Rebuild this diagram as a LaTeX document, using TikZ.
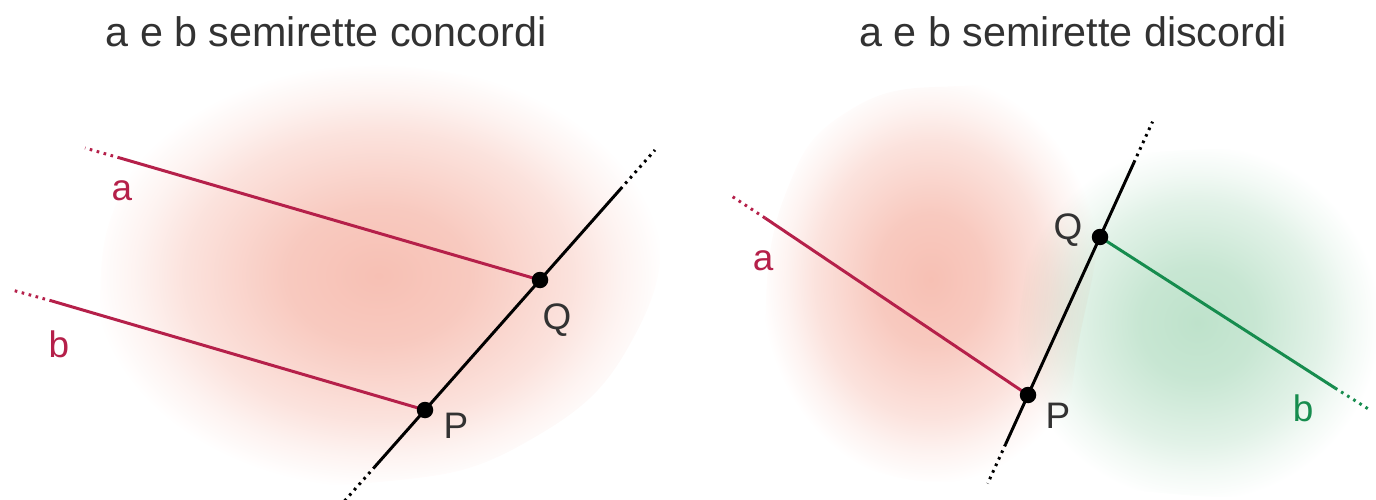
\documentclass[tikz,border=0pt]{standalone}
\usepackage{fontspec}
\setmainfont{Liberation Sans}
\usetikzlibrary{calc}

\definecolor{segred}{RGB}{181,32,74}
\definecolor{seggreen}{RGB}{22,140,78}
\definecolor{blobred}{RGB}{247,192,180}
\definecolor{blobgreen}{RGB}{190,226,203}
\definecolor{titlegray}{RGB}{50,50,50}

\pgfdeclareradialshading{redblob}{\pgfpoint{0bp}{0bp}}{color(0bp)=(blobred); color(8bp)=(blobred!85!white); color(17bp)=(blobred!45!white); color(21bp)=(blobred!20!white); color(25bp)=(white); color(50bp)=(white)}
\pgfdeclareradialshading{greenblob}{\pgfpoint{0bp}{0bp}}{color(0bp)=(blobgreen); color(8bp)=(blobgreen!85!white); color(17bp)=(blobgreen!45!white); color(21bp)=(blobgreen!20!white); color(25bp)=(white); color(50bp)=(white)}

\begin{document}
\begin{tikzpicture}[
  x=0.02cm, y=-0.02cm,
  seg/.style={line width=1.7pt, #1},
  dots/.style={line width=1.7pt, dash pattern=on 1.5pt off 2.6pt, #1},
  pnt/.style={circle, fill=black, inner sep=0pt, minimum size=0.33cm},
  lbl/.style={anchor=base, font=\fontsize{21}{24}\selectfont, text=#1},
  heading/.style={anchor=base, font=\fontsize{23.5}{28}\selectfont, text=titlegray},
]
\useasboundingbox (0,0) rectangle (1376,500);

% ===== Left: concordi =====
\node[heading] (t1) at (326,47) {a e b semirette concordi};

\shade[shading=redblob] plot[smooth cycle, tension=0.8] coordinates
  {(100,300) (125,185) (200,100) (330,68) (470,76) (590,115) (655,205)
   (635,335) (530,440) (380,482) (225,470) (120,405)};

\coordinate (P1) at (425,410);
\coordinate (Q1) at (540,280);
\coordinate (r1a) at ($(P1)!-0.435!(Q1)$);
\coordinate (r1b) at ($(P1)!-0.7!(Q1)$);
\coordinate (r1c) at ($(P1)!1.7!(Q1)$);
\coordinate (r1d) at ($(P1)!2.0!(Q1)$);
\coordinate (a1a) at (120,158);
\coordinate (a1b) at (85,148);
\coordinate (b1a) at (52,301);
\coordinate (b1b) at (12,290);

\draw[seg=segred] (Q1) -- (a1a);
\draw[dots=segred] (a1a) -- (a1b);
\draw[seg=segred] (P1) -- (b1a);
\draw[dots=segred] (b1a) -- (b1b);

\draw[seg=black] (r1a) -- (r1c);
\draw[dots=black] (r1a) -- (r1b);
\draw[dots=black] (r1c) -- (r1d);

\node[pnt] (p1) at (P1) {};
\node[pnt] (q1) at (Q1) {};

\node[lbl=segred] (la1) at (122,200) {a};
\node[lbl=segred] (lb1) at (59,357) {b};
\node[lbl=titlegray] (lq1) at (557,329) {Q};
\node[lbl=titlegray] (lp1) at (456,438) {P};

% ===== Right: discordi =====
\node[heading] (t2) at (1073,47) {a e b semirette discordi};

\shade[shading=redblob] plot[smooth cycle, tension=0.8] coordinates
  {(765,330) (785,195) (850,110) (960,86) (1065,100) (1098,200)
   (1080,335) (1048,450) (960,482) (845,460) (778,405)};
\shade[shading=greenblob, blend mode=multiply] plot[smooth cycle, tension=0.8] coordinates
  {(1030,250) (1055,170) (1150,152) (1285,160) (1360,225) (1376,330)
   (1360,440) (1285,490) (1150,492) (1055,470) (1020,380)};

\coordinate (P2) at (1028,395);
\coordinate (Q2) at (1100,237);
\coordinate (r2a) at ($(P2)!-0.31!(Q2)$);
\coordinate (r2b) at ($(P2)!-0.56!(Q2)$);
\coordinate (r2c) at ($(P2)!1.47!(Q2)$);
\coordinate (r2d) at ($(P2)!1.73!(Q2)$);
\coordinate (a2a) at (765,218);
\coordinate (a2b) at (730,195);
\coordinate (b2a) at (1335,388);
\coordinate (b2b) at (1370,410);

\draw[seg=segred] (P2) -- (a2a);
\draw[dots=segred] (a2a) -- (a2b);
\draw[seg=seggreen] (Q2) -- (b2a);
\draw[dots=seggreen] (b2a) -- (b2b);

\draw[seg=black] (r2a) -- (r2c);
\draw[dots=black] (r2a) -- (r2b);
\draw[dots=black] (r2c) -- (r2d);

\node[pnt] (p2) at (P2) {};
\node[pnt] (q2) at (Q2) {};

\node[lbl=segred] (la2) at (763,270) {a};
\node[lbl=seggreen] (lb2) at (1303,421) {b};
\node[lbl=titlegray] (lq2) at (1068,239) {Q};
\node[lbl=titlegray] (lp2) at (1058,428) {P};

\end{tikzpicture}
\end{document}
